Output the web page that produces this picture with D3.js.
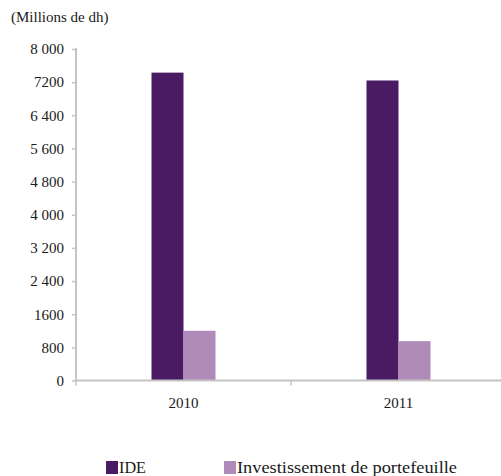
<!DOCTYPE html>
<html>
<head>
<meta charset="utf-8">
<script src="https://cdn.jsdelivr.net/npm/d3@7"></script>
<style>
  html, body { margin: 0; padding: 0; background: #fff; }
  svg { display: block; }
</style>
</head>
<body>
<svg id="chart" width="501" height="476"></svg>
<script>
// Investment flows, millions of dirhams
const years = ["2010", "2011"];
const seriesNames = ["IDE", "Investissement de portefeuille"];
const ideValues = [7430, 7240];
const portfolioValues = [1200, 950];
const yTickValues = [0, 800, 1600, 2400, 3200, 4000, 4800, 5600, 6400, 7200, 8000];
const yTickLabels = ["0", "800", "1600", "2 400", "3 200", "4 000", "4 800", "5 600", "6 400", "7200", "8 000"];
const colors = ["#4a1a63", "#b08ab8"];

const FONT = "Liberation Serif";
const INK = "#1a1a1a";
const GRID = "#c4c4c4";

const svg = d3.select("#chart");
const plotLeft = 76, plotRight = 506, plotTop = 49, plotBottom = 380.5;

const x = d3.scaleBand().domain(years).range([plotLeft, plotRight]);
const xs = d3.scaleBand().domain(seriesNames).range([0, 64]);
const y = d3.scaleLinear().domain([0, 8000]).range([plotBottom, plotTop]);

const data = years.map((yr, i) => ({ year: yr, values: [ideValues[i], portfolioValues[i]] }));

// unit label
svg.append("text").attr("x", 11).attr("y", 22)
  .attr("font-family", FONT).attr("font-size", 15).attr("fill", INK)
  .text("(Millions de dh)");

// y axis
const yAxis = svg.append("g").attr("transform", `translate(${plotLeft},0)`)
  .call(d3.axisLeft(y).tickValues(yTickValues).tickFormat((d, i) => yTickLabels[i]).tickSize(4).tickPadding(8))
  .attr("font-family", FONT).attr("font-size", 15);
yAxis.select(".domain").attr("stroke", GRID).attr("stroke-width", 2).attr("d", `M0,${plotTop - 1}V${plotBottom}`);
yAxis.selectAll(".tick line").attr("stroke", GRID).attr("stroke-width", 1.5);
yAxis.selectAll(".tick text").attr("fill", INK);

// bars
const groups = svg.append("g").selectAll("g").data(data).join("g")
  .attr("transform", d => `translate(${x(d.year) + x.bandwidth() / 2 - 32},0)`);
groups.selectAll("rect").data(d => d.values.map((v, j) => ({ name: seriesNames[j], v, j })))
  .join("rect")
  .attr("x", d => xs(d.name))
  .attr("width", xs.bandwidth())
  .attr("y", d => y(d.v))
  .attr("height", d => y(0) - y(d.v))
  .attr("fill", d => colors[d.j]);

// x axis
const xAxis = svg.append("g").attr("transform", `translate(0,${plotBottom})`)
  .call(d3.axisBottom(x).tickSize(0).tickPadding(17))
  .attr("font-family", FONT).attr("font-size", 15);
xAxis.select(".domain").attr("stroke", GRID).attr("stroke-width", 2).attr("d", `M${plotLeft},0H${plotRight}`);
xAxis.selectAll(".tick text").attr("fill", INK);
// category separators
const bounds = [plotLeft, plotLeft + x.bandwidth()];
xAxis.selectAll("line.sep").data(bounds).join("line").attr("class", "sep")
  .attr("x1", d => d).attr("x2", d => d).attr("y1", 0).attr("y2", 5)
  .attr("stroke", GRID).attr("stroke-width", 1.5);

// legend
const legendX = [106, 224];
const legendTextWidth = [27, 220];
const legend = svg.append("g").selectAll("g").data(seriesNames).join("g")
  .attr("transform", (d, i) => `translate(${legendX[i]},461)`);
legend.append("rect").attr("width", 12).attr("height", 13).attr("fill", (d, i) => colors[i]);
legend.append("text").attr("x", 13).attr("y", 11.5)
  .attr("font-family", FONT).attr("font-size", 17).attr("fill", INK)
  .attr("textLength", (d, i) => legendTextWidth[i]).attr("lengthAdjust", "spacingAndGlyphs")
  .text(d => d);
</script>
</body>
</html>
